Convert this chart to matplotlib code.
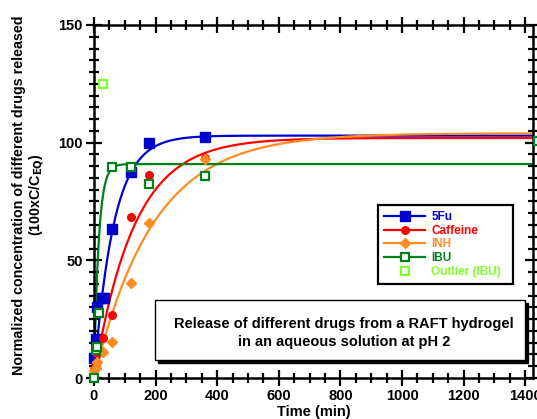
import matplotlib.pyplot as plt
import numpy as np
from matplotlib.lines import Line2D
from matplotlib.patches import Rectangle
from matplotlib.ticker import MultipleLocator

plt.rcParams.update({
	"font.family": ["Liberation Sans", "DejaVu Sans"],
	"font.weight": "bold",
	"axes.labelweight": "bold",
	"mathtext.default": "bf",
})

# Data
t_5fu = [0, 5, 10, 25, 32, 60, 120, 180, 360]
y_5fu = [8.6, 16.4, 30, 34, 34, 63.2, 87.6, 99.7, 102.3]

t_caf = [0, 5, 10, 30, 60, 120, 180, 360]
y_caf = [4, 6, 10.6, 16.9, 26.8, 68.5, 86.2, 93.5]

t_inh = [0, 5, 10, 30, 60, 120, 180, 360]
y_inh = [3.4, 4.2, 6.9, 11.2, 15.4, 40.2, 65.7, 93]

t_ibu = [0, 5, 10, 15, 60, 120, 180, 360, 1440]
y_ibu = [0, 12, 13, 27.5, 89.5, 89.5, 82.3, 86, 100.5]

t_out = [30]
y_out = [125]

# first-order release fit: A * (1 - exp(-k t))
labels = ["5Fu", "Caffeine", "INH", "IBU", "Outlier (IBU)  "]
fit_A = [103, 102, 104, 90.9]
fit_k = [0.0157, 0.0077, 0.0052, 0.066]

c_blue = "#0000CC"
c_red = "#FF0000"
c_orange = "#FF8C20"
c_green = "#00801A"
c_lime = "#80FF2A"
colors = [c_blue, c_red, c_orange, c_green]

W, H = 537, 419
fig = plt.figure(figsize=(W / 100, H / 100), dpi=100)
ax = fig.add_axes([94 / W, 41 / H, 439 / W, 353 / H])

tt = np.linspace(0, 1440, 2000)
for A, k, c in zip(fit_A, fit_k, colors):
	ax.plot(tt, A * (1 - np.exp(-k * tt)), color=c, lw=1.6, zorder=2)

ms = dict(linestyle="none", zorder=3, clip_on=False)
ax.plot(t_5fu, y_5fu, marker="s", ms=6.5, color=c_blue, **ms)
ax.plot(t_caf, y_caf, marker="o", ms=5.5, color=c_red, **ms)
ax.plot(t_inh, y_inh, marker="D", ms=5, color=c_orange, **ms)
ax.plot(t_ibu, y_ibu, marker="s", ms=6, mfc="white", mec=c_green, mew=1.6, **ms)
ax.plot(t_out, y_out, marker="s", ms=6, mfc="white", mec=c_lime, mew=1.6, **ms)

ax.set_xlim(0, 1425)
ax.set_ylim(0, 150)
ax.xaxis.set_major_locator(MultipleLocator(200))
ax.xaxis.set_minor_locator(MultipleLocator(50))
ax.yaxis.set_major_locator(MultipleLocator(50))
ax.yaxis.set_minor_locator(MultipleLocator(5))
ax.tick_params(which="both", direction="inout", top=True, right=True, width=1.6, labelsize=10.5, pad=2)
ax.tick_params(which="major", length=12)
ax.tick_params(which="minor", length=7)
for s in ax.spines.values():
	s.set_linewidth(1.8)

ax.set_xlabel("Time (min)", fontsize=10.5, labelpad=1.5)
fig.text(29 / W, 1 - 195 / H,
	"Normalized concentration of different drugs released\n(100xC/C$_{EQ}$)",
	rotation=90, ha="center", va="center", fontsize=10.3, linespacing=1.15)

# legend
handles = [
	Line2D([], [], color=c_blue, lw=1.6, marker="s", ms=6.5),
	Line2D([], [], color=c_red, lw=1.6, marker="o", ms=5.5),
	Line2D([], [], color=c_orange, lw=1.6, marker="D", ms=5),
	Line2D([], [], color=c_green, lw=1.6, marker="s", ms=6, mfc="white", mew=1.6),
	Line2D([], [], color=c_lime, lw=0, marker="s", ms=6, mfc="white", mew=1.6),
]
leg = ax.legend(handles, labels, loc="upper left",
	bbox_to_anchor=((378 - 94) / 439, (H - 205 - 41) / 353), fancybox=False,
	fontsize=8.5, handlelength=3.5, handletextpad=0.5, labelspacing=0.15,
	borderpad=0.5, borderaxespad=0, frameon=True)
leg.get_frame().set_edgecolor("black")
leg.get_frame().set_linewidth(1.6)
leg.get_frame().set_alpha(None)
for txt, c in zip(leg.get_texts(), colors + [c_lime]):
	txt.set_color(c)

# annotation box with shadow
bx0, by0, bw, bh = 155, H - 360, 370, 60
fig.patches.append(Rectangle(((bx0 + 3) / W, (by0 - 3) / H), bw / W, bh / H,
	transform=fig.transFigure, facecolor="black", edgecolor="black", zorder=5))
fig.patches.append(Rectangle((bx0 / W, by0 / H), bw / W, bh / H,
	transform=fig.transFigure, facecolor="white", edgecolor="black", lw=1.0, zorder=6))
fig.text((bx0 + bw / 2 + 4) / W, 1 - 333 / H,
	"Release of different drugs from a RAFT hydrogel\nin an aqueous solution at pH 2",
	ha="center", va="center", fontsize=10.5, linespacing=1.45, zorder=7)

fig.savefig("out.png", dpi=100)
